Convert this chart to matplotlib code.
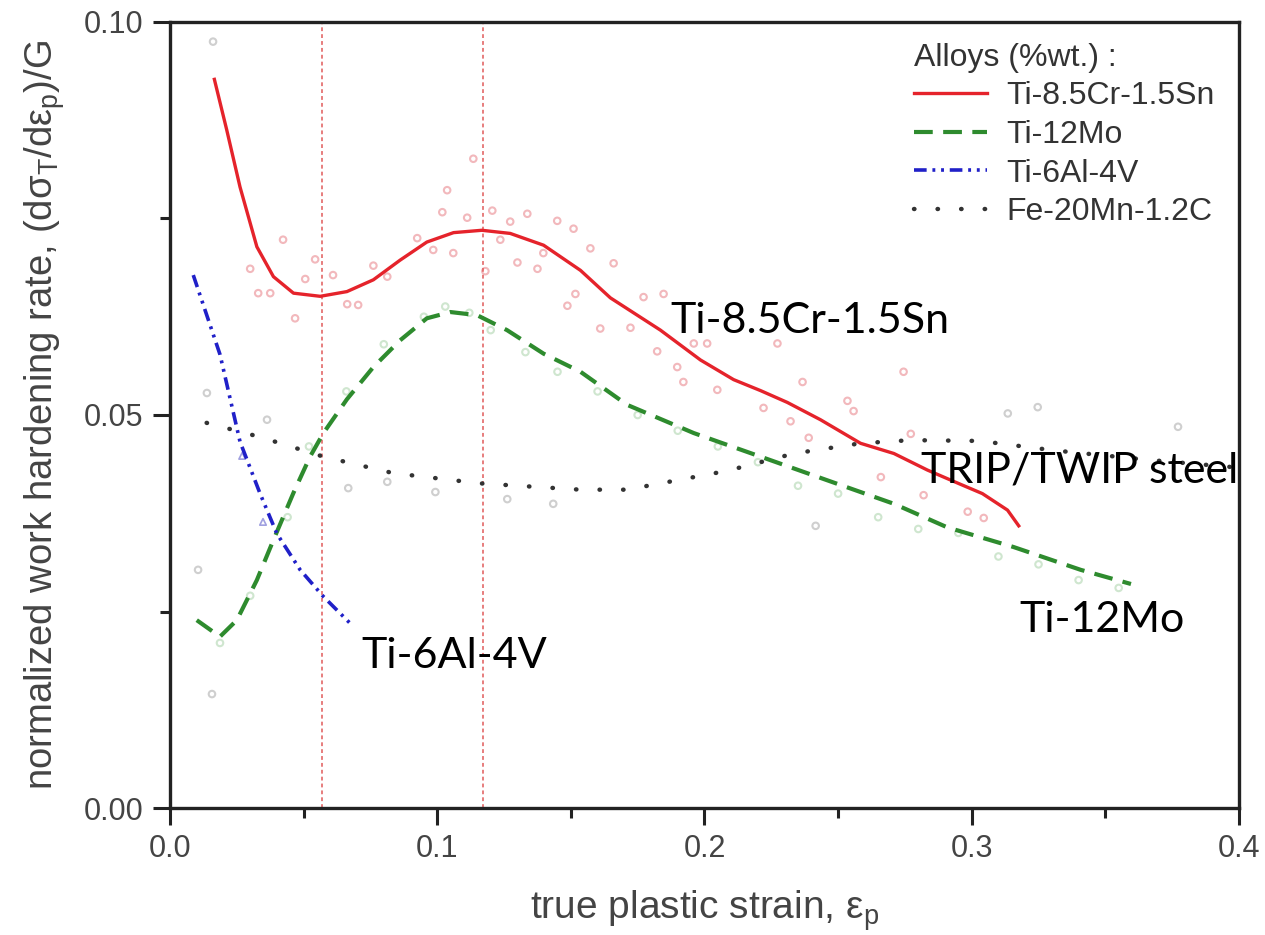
import matplotlib
matplotlib.use("Agg")
import matplotlib.pyplot as plt
from matplotlib.ticker import MultipleLocator, FormatStrFormatter

plt.rcParams['font.family'] = ['Liberation Sans', 'DejaVu Sans']
plt.rcParams['mathtext.fontset'] = 'custom'
plt.rcParams['mathtext.rm'] = 'Liberation Sans'

# ---- data ----
cr_x = [0.0166, 0.0212, 0.0262, 0.0325, 0.0387, 0.0462, 0.0562, 0.0662, 0.0761, 0.0861,
        0.0961, 0.1061, 0.1167, 0.1273, 0.1398, 0.1536, 0.1648, 0.1835, 0.1985, 0.2109,
        0.2210, 0.2310, 0.2434, 0.2584, 0.2709, 0.2834, 0.2950, 0.3040, 0.3134, 0.3176]
cr_y = [0.0927, 0.0863, 0.0790, 0.0714, 0.0676, 0.0655, 0.0651, 0.0657, 0.0672, 0.0697,
        0.0720, 0.0732, 0.0735, 0.0731, 0.0716, 0.0684, 0.0649, 0.0608, 0.0570, 0.0545,
        0.0531, 0.0516, 0.0494, 0.0464, 0.0451, 0.0430, 0.0413, 0.0400, 0.0379, 0.0359]

mo_x = [0.0100, 0.0187, 0.0250, 0.0325, 0.0387, 0.0462, 0.0524, 0.0574, 0.0662, 0.0761,
        0.0861, 0.0961, 0.1049, 0.1149, 0.1261, 0.1398, 0.1536, 0.1710, 0.1960, 0.2210,
        0.2459, 0.2709, 0.2909, 0.3157, 0.3408, 0.3596]
mo_y = [0.0239, 0.0218, 0.0239, 0.0290, 0.0341, 0.0401, 0.0447, 0.0477, 0.0520, 0.0561,
        0.0595, 0.0623, 0.0631, 0.0627, 0.0608, 0.0578, 0.0555, 0.0513, 0.0477, 0.0447,
        0.0417, 0.0387, 0.0357, 0.0332, 0.0303, 0.0285]

al_x = [0.0087, 0.0187, 0.0262, 0.0337, 0.0400, 0.0487, 0.0574, 0.0674]
al_y = [0.0678, 0.0577, 0.0466, 0.0400, 0.0349, 0.0303, 0.0269, 0.0235]

fe_x = [0.0137, 0.0337, 0.0574, 0.0836, 0.1161, 0.1536, 0.1710, 0.1898, 0.2085, 0.2335,
        0.2584, 0.2772, 0.3030, 0.3307, 0.3658, 0.4000]
fe_y = [0.0490, 0.0472, 0.0447, 0.0426, 0.0413, 0.0405, 0.0405, 0.0417, 0.0429, 0.0451,
        0.0464, 0.0468, 0.0467, 0.0455, 0.0443, 0.0433]

# raw data points (faint markers)
cr_pts_x = [0.030, 0.033, 0.0375, 0.0423, 0.0468, 0.0506, 0.0543, 0.061, 0.0663, 0.0704,
            0.0761, 0.0813, 0.0925, 0.0985, 0.1019, 0.1037, 0.106, 0.1112, 0.1135, 0.118,
            0.1206, 0.1236, 0.1273, 0.130, 0.1337, 0.1375, 0.1397, 0.1449, 0.1487, 0.1517,
            0.151, 0.1573, 0.166, 0.161, 0.1723, 0.1772, 0.1847, 0.1823, 0.1898, 0.196,
            0.201, 0.1921, 0.2048, 0.2221, 0.2273, 0.2322, 0.2367, 0.239, 0.2535, 0.2558,
            0.2745, 0.2772, 0.266, 0.282, 0.2985, 0.3045]
cr_pts_y = [0.0686, 0.0655, 0.0655, 0.0723, 0.0623, 0.0673, 0.0698, 0.0678, 0.0641, 0.0640,
            0.0690, 0.0676, 0.0725, 0.0710, 0.0758, 0.0786, 0.0706, 0.0751, 0.0826, 0.0683,
            0.0760, 0.0723, 0.0746, 0.0694, 0.0756, 0.0686, 0.0706, 0.0747, 0.0639, 0.0654,
            0.0737, 0.0712, 0.0693, 0.0610, 0.0611, 0.0650, 0.0654, 0.0581, 0.0561, 0.0591,
            0.0591, 0.0542, 0.0532, 0.0509, 0.0591, 0.0492, 0.0542, 0.0471, 0.0518, 0.0505,
            0.0555, 0.0476, 0.0421, 0.0398, 0.0377, 0.0369]

mo_pts_x = [0.0187, 0.030, 0.044, 0.052, 0.066, 0.080, 0.095, 0.103, 0.112, 0.120,
            0.133, 0.145, 0.160, 0.175, 0.190, 0.205, 0.220, 0.235, 0.250, 0.265,
            0.280, 0.295, 0.310, 0.325, 0.340, 0.355]
mo_pts_y = [0.0210, 0.0270, 0.0370, 0.0460, 0.0530, 0.0590, 0.0625, 0.0638, 0.0630, 0.0608,
            0.0580, 0.0555, 0.0530, 0.0500, 0.0480, 0.0460, 0.0440, 0.0410, 0.0400, 0.0370,
            0.0355, 0.0350, 0.0320, 0.0310, 0.0290, 0.0280]

fe_pts_x = [0.0161, 0.0138, 0.0363, 0.0105, 0.0157, 0.0667, 0.0813, 0.0993, 0.1262, 0.1434,
            0.2416, 0.3135, 0.3247, 0.3772]
fe_pts_y = [0.0975, 0.0528, 0.0494, 0.0303, 0.0145, 0.0407, 0.0415, 0.0402, 0.0393, 0.0387,
            0.0359, 0.0502, 0.0510, 0.0485]

al_pts_x = [0.027, 0.0348]
al_pts_y = [0.0448, 0.0364]

vlines_x = [0.057, 0.117]

labels = ['Ti-8.5Cr-1.5Sn', 'Ti-12Mo', 'Ti-6Al-4V', 'Fe-20Mn-1.2C']
x_ticks = [0.0, 0.1, 0.2, 0.3, 0.4]
y_ticks = [0.00, 0.05, 0.10]

# ---- figure ----
fig = plt.figure(figsize=(12.65, 9.35), dpi=100)
ax = fig.add_axes([0.1344, 0.1358, 0.8450, 0.8407])

# faint raw markers
ax.scatter(cr_pts_x, cr_pts_y, s=22, facecolors='none', edgecolors='#f2b8bc', linewidths=1.5, zorder=1)
ax.scatter(mo_pts_x, mo_pts_y, s=22, facecolors='none', edgecolors='#cfe6cf', linewidths=1.5, zorder=1)
ax.scatter(fe_pts_x, fe_pts_y, s=22, facecolors='none', edgecolors='#cfcfcf', linewidths=1.5, zorder=1)
ax.scatter(al_pts_x, al_pts_y, s=22, marker='^', facecolors='none', edgecolors='#a0a0e0', linewidths=1.2, zorder=1)

for xv in vlines_x:
    ax.axvline(xv, color='#e05a5a', lw=1.1, ls=(0, (2.5, 2)), zorder=2)

ax.plot(cr_x, cr_y, color='#e5232b', lw=2.4, label=labels[0], zorder=4)
ax.plot(mo_x, mo_y, color='#2e8b2e', lw=3.0, ls=(0, (4.5, 2.5)), label=labels[1], zorder=4)
ax.plot(al_x, al_y, color='#2020c8', lw=2.6, ls=(0, (3.5, 1.6, 0.8, 1.6, 0.8, 1.6)), label=labels[2], zorder=4)
ax.plot(fe_x, fe_y, color='#333333', lw=3.2, ls=(0, (0.1, 5.2)), dash_capstyle='round',
        solid_capstyle='round', label=labels[3], zorder=4)

ax.set_xlim(0, 0.4)
ax.set_ylim(0, 0.10)
ax.set_xticks(x_ticks)
ax.set_yticks(y_ticks)
ax.xaxis.set_minor_locator(MultipleLocator(0.05))
ax.yaxis.set_minor_locator(MultipleLocator(0.025))
ax.xaxis.set_major_formatter(FormatStrFormatter('%.1f'))
ax.yaxis.set_major_formatter(FormatStrFormatter('%.2f'))
ax.tick_params(which='major', direction='out', length=12, width=2.2, labelsize=22,
               labelcolor='#444444', color='#222222', pad=7)
ax.tick_params(which='minor', direction='out', length=7, width=2.2, color='#222222')
for sp in ax.spines.values():
    sp.set_linewidth(2.4)
    sp.set_color('#222222')

ax.set_xlabel('true plastic strain, ε$_\\mathregular{p}$', fontsize=28, color='#444444', labelpad=17)
ax.set_ylabel('normalized work hardening rate, (dσ$_\\mathregular{T}$/dε$_\\mathregular{p}$)/G',
              fontsize=27.5, color='#444444', labelpad=12)

leg = ax.legend(loc='upper right', bbox_to_anchor=(0.997, 1.0), frameon=False, fontsize=23,
                title='Alloys (%wt.) :', title_fontsize=23, alignment='left',
                handlelength=2.3, handletextpad=0.6, labelspacing=0.27, borderpad=0.15)
for t in leg.get_texts():
    t.set_color('#333333')
leg.get_title().set_color('#333333')

ann_font = dict(family=['Lato', 'DejaVu Sans'], fontsize=31, color='black')
ax.text(0.1874, 0.0619, 'Ti-8.5Cr-1.5Sn', va='center', ha='left', zorder=6, **ann_font)
ax.text(0.2810, 0.0430, 'TRIP/TWIP steel', va='center', ha='left', zorder=6, **ann_font)
ax.text(0.3180, 0.0239, 'Ti-12Mo', va='center', ha='left', zorder=6, **ann_font)
ax.text(0.0715, 0.0194, 'Ti-6Al-4V', va='center', ha='left', zorder=6, **ann_font)

fig.savefig('out.png', dpi=100)
